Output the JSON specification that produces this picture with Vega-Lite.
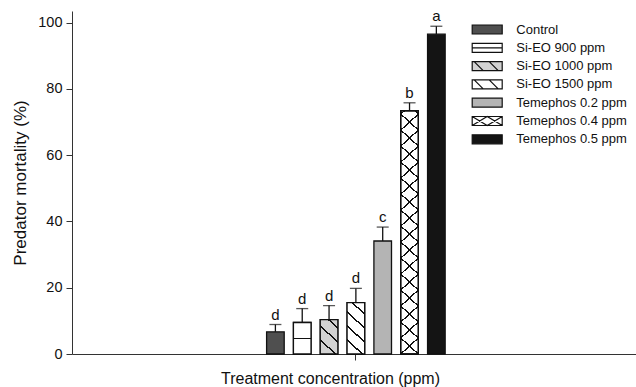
{
  "$schema": "https://vega.github.io/schema/vega-lite/v6.json",
  "width": 564,
  "height": 343,
  "autosize": {"type": "none"},
  "padding": {"left": 72, "top": 11, "right": 0, "bottom": 33},
  "config": {
    "view": {"stroke": null},
    "font": "Liberation Sans",
    "axis": {"domainColor": "#333333", "tickColor": "#333333", "grid": false, "labelColor": "#111111", "titleColor": "#111111", "titleFontWeight": "normal"}
  },
  "data": {
    "values": [
      {"group": "all", "treatment": "Control", "mortality": 6.7, "upper": 8.9, "letter": "d"},
      {"group": "all", "treatment": "Si-EO 900 ppm", "mortality": 9.5, "upper": 13.7, "letter": "d"},
      {"group": "all", "treatment": "Si-EO 1000 ppm", "mortality": 10.4, "upper": 14.6, "letter": "d"},
      {"group": "all", "treatment": "Si-EO 1500 ppm", "mortality": 15.5, "upper": 19.8, "letter": "d"},
      {"group": "all", "treatment": "Temephos 0.2 ppm", "mortality": 34.1, "upper": 38.3, "letter": "c"},
      {"group": "all", "treatment": "Temephos 0.4 ppm", "mortality": 73.4, "upper": 75.8, "letter": "b"},
      {"group": "all", "treatment": "Temephos 0.5 ppm", "mortality": 96.5, "upper": 98.9, "letter": "a"}
    ]
  },
  "encoding": {
    "x": {
      "field": "group", "type": "nominal",
      "scale": {"paddingInner": 0, "paddingOuter": 1.149, "align": 0.505},
      "axis": {"title": "Treatment concentration (ppm)", "labels": false, "ticks": true, "tickSize": 6, "titleFontSize": 16, "titlePadding": 10, "titleX": 258, "titleAlign": "center"}
    },
    "xOffset": {
      "field": "treatment", "type": "nominal",
      "sort": ["Control", "Si-EO 900 ppm", "Si-EO 1000 ppm", "Si-EO 1500 ppm", "Temephos 0.2 ppm", "Temephos 0.4 ppm", "Temephos 0.5 ppm"],
      "scale": {"paddingInner": 0.344, "paddingOuter": 0.176}
    }
  },
  "layer": [
    {
      "mark": {"type": "bar", "stroke": "#111111", "strokeWidth": 1.3},
      "encoding": {
        "y": {
          "field": "mortality", "type": "quantitative",
          "scale": {"domain": [0, 103.5], "nice": false},
          "axis": {"title": "Predator mortality (%)", "values": [0, 20, 40, 60, 80, 100], "tickSize": 6, "labelFontSize": 14.5, "labelPadding": 4, "titleFontSize": 17, "titlePadding": 8}
        },
        "fill": {
          "field": "treatment", "type": "nominal",
          "scale": {
            "domain": ["Control", "Si-EO 900 ppm", "Si-EO 1000 ppm", "Si-EO 1500 ppm", "Temephos 0.2 ppm", "Temephos 0.4 ppm", "Temephos 0.5 ppm"],
            "range": ["#4f4f4f", "#ffffff", "#d2d2d2", "#ffffff", "#b4b4b4", "#ffffff", "#141414"]
          },
          "legend": {
            "title": null,
            "orient": "none",
            "legendX": 408.7,
            "legendY": 12,
            "padding": 0,
            "symbolType": "M-3,-0.9H3V0.9H-3Z",
            "symbolSize": 100,
            "symbolStrokeColor": "#111111",
            "symbolStrokeWidth": 1.2,
            "labelFontSize": 13,
            "labelColor": "#111111",
            "labelOffset": 22.6,
            "rowPadding": 3.3,
            "encode": {
              "symbols": {
                "update": {
                  "shape": [
                    {"test": "datum.value === 'Si-EO 900 ppm'", "value": "M-3,-0.9H3V0.9H-3Z M-3,0H3"},
                    {"test": "datum.value === 'Si-EO 1000 ppm' || datum.value === 'Si-EO 1500 ppm'", "value": "M-3,-0.9H3V0.9H-3Z M-2.6,-0.9L-0.8,0.9 M0.4,-0.9L2.2,0.9"},
                    {"test": "datum.value === 'Temephos 0.4 ppm'", "value": "M-3,-0.9H3V0.9H-3Z M-3,-0.9L0,0.9L3,-0.9 M-3,0.9L0,-0.9L3,0.9"},
                    {"value": "M-3,-0.9H3V0.9H-3Z"}
                  ]
                }
              }
            }
          }
        }
      }
    },
    {
      "transform": [{"filter": "datum.treatment === 'Si-EO 900 ppm'"}],
      "mark": {"type": "bar", "stroke": "#111111", "strokeWidth": 1.3,
        "fill": {"gradient": "linear", "x1": 0, "y1": 0, "x2": 0, "y2": 1, "stops": [
          {"offset": 0, "color": "#ffffff"}, {"offset": 0.481, "color": "#ffffff"},
          {"offset": 0.481, "color": "#111111"}, {"offset": 0.519, "color": "#111111"},
          {"offset": 0.519, "color": "#ffffff"}, {"offset": 1, "color": "#ffffff"}]}},
      "encoding": {"y": {"field": "mortality", "type": "quantitative"}}
    },
    {
      "transform": [{"filter": "datum.treatment === 'Si-EO 1000 ppm'"}],
      "mark": {"type": "bar", "stroke": "#111111", "strokeWidth": 1.3,
        "fill": {"gradient": "linear", "x1": 0, "y1": 1, "x2": 0.5589, "y2": -0.205, "stops": [
          {"offset": 0, "color": "#d2d2d2"},
          {"offset": 0.2576, "color": "#d2d2d2"}, {"offset": 0.2576, "color": "#111111"}, {"offset": 0.2968, "color": "#111111"}, {"offset": 0.2968, "color": "#d2d2d2"},
          {"offset": 0.5349, "color": "#d2d2d2"}, {"offset": 0.5349, "color": "#111111"}, {"offset": 0.5741, "color": "#111111"}, {"offset": 0.5741, "color": "#d2d2d2"},
          {"offset": 0.8121, "color": "#d2d2d2"}, {"offset": 0.8121, "color": "#111111"}, {"offset": 0.8513, "color": "#111111"}, {"offset": 0.8513, "color": "#d2d2d2"},
          {"offset": 1, "color": "#d2d2d2"}]}},
      "encoding": {"y": {"field": "mortality", "type": "quantitative"}}
    },
    {
      "transform": [{"filter": "datum.treatment === 'Si-EO 1500 ppm'"}],
      "mark": {"type": "bar", "stroke": "#111111", "strokeWidth": 1.3,
        "fill": {"gradient": "linear", "x1": 0, "y1": 1, "x2": 0.3722, "y2": -0.1956, "stops": [
          {"offset": 0, "color": "#ffffff"},
          {"offset": 0.1930, "color": "#ffffff"}, {"offset": 0.1930, "color": "#111111"}, {"offset": 0.2224, "color": "#111111"}, {"offset": 0.2224, "color": "#ffffff"},
          {"offset": 0.4007, "color": "#ffffff"}, {"offset": 0.4007, "color": "#111111"}, {"offset": 0.4301, "color": "#111111"}, {"offset": 0.4301, "color": "#ffffff"},
          {"offset": 0.6084, "color": "#ffffff"}, {"offset": 0.6084, "color": "#111111"}, {"offset": 0.6378, "color": "#111111"}, {"offset": 0.6378, "color": "#ffffff"},
          {"offset": 0.8162, "color": "#ffffff"}, {"offset": 0.8162, "color": "#111111"}, {"offset": 0.8456, "color": "#111111"}, {"offset": 0.8456, "color": "#ffffff"},
          {"offset": 1, "color": "#ffffff"}]}},
      "encoding": {"y": {"field": "mortality", "type": "quantitative"}}
    },
    {
      "transform": [{"filter": "datum.treatment === 'Temephos 0.4 ppm'"}],
      "mark": {"type": "bar", "stroke": "#111111", "strokeWidth": 1.3,
        "fill": {"gradient": "linear", "x1": 0, "y1": 1, "x2": 0.0698, "y2": -0.0613, "stops": [
          {"offset": 0, "color": "#ffffff"},
          {"offset": 0.0582, "color": "#ffffff"}, {"offset": 0.0582, "color": "#111111"}, {"offset": 0.0652, "color": "#111111"}, {"offset": 0.0652, "color": "#ffffff"},
          {"offset": 0.1199, "color": "#ffffff"}, {"offset": 0.1199, "color": "#111111"}, {"offset": 0.1269, "color": "#111111"}, {"offset": 0.1269, "color": "#ffffff"},
          {"offset": 0.1816, "color": "#ffffff"}, {"offset": 0.1816, "color": "#111111"}, {"offset": 0.1886, "color": "#111111"}, {"offset": 0.1886, "color": "#ffffff"},
          {"offset": 0.2433, "color": "#ffffff"}, {"offset": 0.2433, "color": "#111111"}, {"offset": 0.2503, "color": "#111111"}, {"offset": 0.2503, "color": "#ffffff"},
          {"offset": 0.3050, "color": "#ffffff"}, {"offset": 0.3050, "color": "#111111"}, {"offset": 0.3120, "color": "#111111"}, {"offset": 0.3120, "color": "#ffffff"},
          {"offset": 0.3667, "color": "#ffffff"}, {"offset": 0.3667, "color": "#111111"}, {"offset": 0.3737, "color": "#111111"}, {"offset": 0.3737, "color": "#ffffff"},
          {"offset": 0.4284, "color": "#ffffff"}, {"offset": 0.4284, "color": "#111111"}, {"offset": 0.4354, "color": "#111111"}, {"offset": 0.4354, "color": "#ffffff"},
          {"offset": 0.4901, "color": "#ffffff"}, {"offset": 0.4901, "color": "#111111"}, {"offset": 0.4971, "color": "#111111"}, {"offset": 0.4971, "color": "#ffffff"},
          {"offset": 0.5518, "color": "#ffffff"}, {"offset": 0.5518, "color": "#111111"}, {"offset": 0.5588, "color": "#111111"}, {"offset": 0.5588, "color": "#ffffff"},
          {"offset": 0.6135, "color": "#ffffff"}, {"offset": 0.6135, "color": "#111111"}, {"offset": 0.6205, "color": "#111111"}, {"offset": 0.6205, "color": "#ffffff"},
          {"offset": 0.6752, "color": "#ffffff"}, {"offset": 0.6752, "color": "#111111"}, {"offset": 0.6822, "color": "#111111"}, {"offset": 0.6822, "color": "#ffffff"},
          {"offset": 0.7369, "color": "#ffffff"}, {"offset": 0.7369, "color": "#111111"}, {"offset": 0.7439, "color": "#111111"}, {"offset": 0.7439, "color": "#ffffff"},
          {"offset": 0.7986, "color": "#ffffff"}, {"offset": 0.7986, "color": "#111111"}, {"offset": 0.8056, "color": "#111111"}, {"offset": 0.8056, "color": "#ffffff"},
          {"offset": 0.8603, "color": "#ffffff"}, {"offset": 0.8603, "color": "#111111"}, {"offset": 0.8673, "color": "#111111"}, {"offset": 0.8673, "color": "#ffffff"},
          {"offset": 0.9220, "color": "#ffffff"}, {"offset": 0.9220, "color": "#111111"}, {"offset": 0.9290, "color": "#111111"}, {"offset": 0.9290, "color": "#ffffff"},
          {"offset": 0.9837, "color": "#ffffff"}, {"offset": 0.9837, "color": "#111111"}, {"offset": 0.9907, "color": "#111111"}, {"offset": 0.9907, "color": "#ffffff"},
          {"offset": 1, "color": "#ffffff"}]}},
      "encoding": {"y": {"field": "mortality", "type": "quantitative"}}
    },
    {
      "transform": [{"filter": "datum.treatment === 'Temephos 0.4 ppm'"}],
      "mark": {"type": "bar", "stroke": "#111111", "strokeWidth": 1.3,
        "fill": {"gradient": "linear", "x1": 1, "y1": 1, "x2": 0.9302, "y2": -0.0613, "stops": [
          {"offset": 0, "color": "rgba(255,255,255,0)"},
          {"offset": 0.0582, "color": "rgba(255,255,255,0)"}, {"offset": 0.0582, "color": "#111111"}, {"offset": 0.0652, "color": "#111111"}, {"offset": 0.0652, "color": "rgba(255,255,255,0)"},
          {"offset": 0.1199, "color": "rgba(255,255,255,0)"}, {"offset": 0.1199, "color": "#111111"}, {"offset": 0.1269, "color": "#111111"}, {"offset": 0.1269, "color": "rgba(255,255,255,0)"},
          {"offset": 0.1816, "color": "rgba(255,255,255,0)"}, {"offset": 0.1816, "color": "#111111"}, {"offset": 0.1886, "color": "#111111"}, {"offset": 0.1886, "color": "rgba(255,255,255,0)"},
          {"offset": 0.2433, "color": "rgba(255,255,255,0)"}, {"offset": 0.2433, "color": "#111111"}, {"offset": 0.2503, "color": "#111111"}, {"offset": 0.2503, "color": "rgba(255,255,255,0)"},
          {"offset": 0.3050, "color": "rgba(255,255,255,0)"}, {"offset": 0.3050, "color": "#111111"}, {"offset": 0.3120, "color": "#111111"}, {"offset": 0.3120, "color": "rgba(255,255,255,0)"},
          {"offset": 0.3667, "color": "rgba(255,255,255,0)"}, {"offset": 0.3667, "color": "#111111"}, {"offset": 0.3737, "color": "#111111"}, {"offset": 0.3737, "color": "rgba(255,255,255,0)"},
          {"offset": 0.4284, "color": "rgba(255,255,255,0)"}, {"offset": 0.4284, "color": "#111111"}, {"offset": 0.4354, "color": "#111111"}, {"offset": 0.4354, "color": "rgba(255,255,255,0)"},
          {"offset": 0.4901, "color": "rgba(255,255,255,0)"}, {"offset": 0.4901, "color": "#111111"}, {"offset": 0.4971, "color": "#111111"}, {"offset": 0.4971, "color": "rgba(255,255,255,0)"},
          {"offset": 0.5518, "color": "rgba(255,255,255,0)"}, {"offset": 0.5518, "color": "#111111"}, {"offset": 0.5588, "color": "#111111"}, {"offset": 0.5588, "color": "rgba(255,255,255,0)"},
          {"offset": 0.6135, "color": "rgba(255,255,255,0)"}, {"offset": 0.6135, "color": "#111111"}, {"offset": 0.6205, "color": "#111111"}, {"offset": 0.6205, "color": "rgba(255,255,255,0)"},
          {"offset": 0.6752, "color": "rgba(255,255,255,0)"}, {"offset": 0.6752, "color": "#111111"}, {"offset": 0.6822, "color": "#111111"}, {"offset": 0.6822, "color": "rgba(255,255,255,0)"},
          {"offset": 0.7369, "color": "rgba(255,255,255,0)"}, {"offset": 0.7369, "color": "#111111"}, {"offset": 0.7439, "color": "#111111"}, {"offset": 0.7439, "color": "rgba(255,255,255,0)"},
          {"offset": 0.7986, "color": "rgba(255,255,255,0)"}, {"offset": 0.7986, "color": "#111111"}, {"offset": 0.8056, "color": "#111111"}, {"offset": 0.8056, "color": "rgba(255,255,255,0)"},
          {"offset": 0.8603, "color": "rgba(255,255,255,0)"}, {"offset": 0.8603, "color": "#111111"}, {"offset": 0.8673, "color": "#111111"}, {"offset": 0.8673, "color": "rgba(255,255,255,0)"},
          {"offset": 0.9220, "color": "rgba(255,255,255,0)"}, {"offset": 0.9220, "color": "#111111"}, {"offset": 0.9290, "color": "#111111"}, {"offset": 0.9290, "color": "rgba(255,255,255,0)"},
          {"offset": 0.9837, "color": "rgba(255,255,255,0)"}, {"offset": 0.9837, "color": "#111111"}, {"offset": 0.9907, "color": "#111111"}, {"offset": 0.9907, "color": "rgba(255,255,255,0)"},
          {"offset": 1, "color": "rgba(255,255,255,0)"}]}},
      "encoding": {"y": {"field": "mortality", "type": "quantitative"}}
    },
    {
      "mark": {"type": "rule", "color": "#111111", "strokeWidth": 1.3},
      "encoding": {"y": {"field": "mortality", "type": "quantitative"}, "y2": {"field": "upper"}}
    },
    {
      "mark": {"type": "tick", "color": "#111111", "thickness": 1.3, "size": 12, "orient": "horizontal"},
      "encoding": {"y": {"field": "upper", "type": "quantitative"}}
    },
    {
      "mark": {"type": "text", "baseline": "alphabetic", "dy": -5, "fontSize": 15, "color": "#111111"},
      "encoding": {"y": {"field": "upper", "type": "quantitative"}, "text": {"field": "letter"}}
    }
  ]
}
